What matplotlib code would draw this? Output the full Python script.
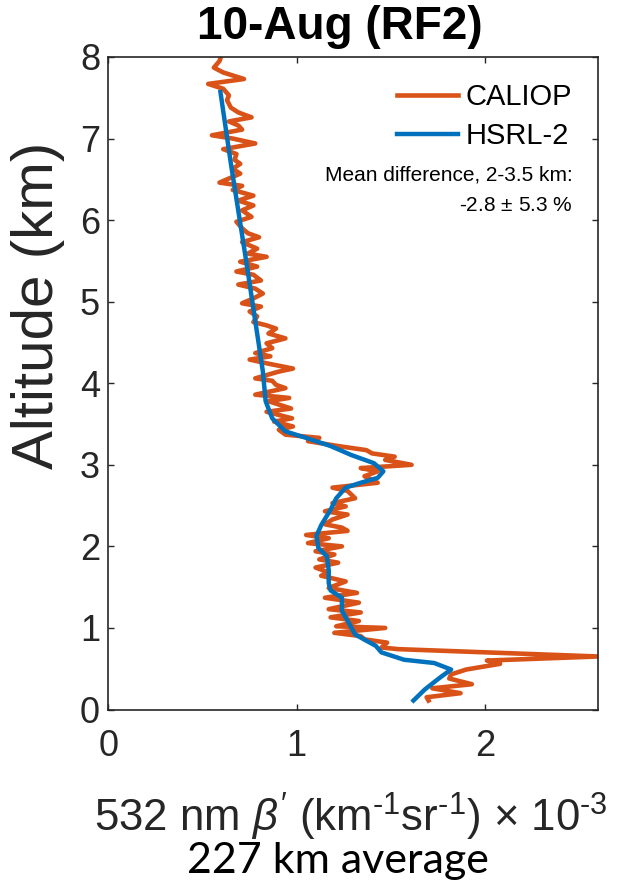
import matplotlib
matplotlib.use("Agg")
import matplotlib.pyplot as plt

plt.rcParams['font.family'] = ['Liberation Sans', 'DejaVu Sans']
plt.rcParams['mathtext.fontset'] = 'custom'
plt.rcParams['mathtext.rm'] = 'Liberation Sans'
plt.rcParams['mathtext.it'] = 'Liberation Sans:italic'

# CALIOP profile (altitude km, beta' x 1e-3)
caliop_alt = [8.02, 7.95, 7.87, 7.81, 7.73, 7.67, 7.61, 7.53, 7.47, 7.38, 7.32, 7.26, 7.21, 7.16,
              7.11, 7.04, 7.00, 6.94, 6.87, 6.81, 6.74, 6.69, 6.63, 6.57, 6.46, 6.42, 6.37, 6.30,
              6.24, 6.18, 6.12, 6.04, 5.98, 5.90, 5.84, 5.79, 5.73, 5.65, 5.59, 5.55, 5.49, 5.43,
              5.37, 5.33, 5.26, 5.21, 5.16, 5.10, 5.04, 4.98, 4.94, 4.88, 4.82, 4.75, 4.71, 4.67,
              4.61, 4.55, 4.49, 4.43, 4.37, 4.33, 4.29, 4.24, 4.18, 4.14, 4.06, 4.03, 3.98, 3.94,
              3.86, 3.82, 3.78, 3.69, 3.65, 3.57, 3.53, 3.47, 3.43, 3.37, 3.33, 3.29, 3.23, 3.18,
              3.14, 3.10, 3.06, 3.00, 2.96, 2.92, 2.86, 2.78, 2.72, 2.68, 2.59, 2.53, 2.49, 2.43,
              2.39, 2.33, 2.27, 2.23, 2.19, 2.14, 2.10, 2.04, 2.00, 1.94, 1.90, 1.84, 1.80, 1.74,
              1.68, 1.64, 1.57, 1.49, 1.43, 1.37, 1.31, 1.23, 1.19, 1.13, 1.085, 1.02, 1.00, 0.94,
              0.90, 0.86, 0.82, 0.76, 0.74, 0.65, 0.60, 0.56, 0.49, 0.43, 0.38, 0.31, 0.26, 0.20,
              0.15, 0.11]
caliop_val = [0.60, 0.59, 0.56, 0.61, 0.72, 0.53, 0.61, 0.64, 0.63, 0.65, 0.69, 0.76, 0.64, 0.69,
              0.71, 0.55, 0.66, 0.78, 0.61, 0.68, 0.67, 0.70, 0.66, 0.70, 0.59, 0.71, 0.66, 0.77,
              0.69, 0.77, 0.71, 0.76, 0.68, 0.71, 0.74, 0.80, 0.71, 0.79, 0.74, 0.84, 0.70, 0.79,
              0.68, 0.77, 0.81, 0.69, 0.78, 0.82, 0.77, 0.71, 0.81, 0.75, 0.79, 0.77, 0.84, 0.89,
              0.85, 0.94, 0.84, 0.87, 0.78, 0.86, 0.75, 0.85, 0.98, 0.90, 0.78, 0.87, 0.89, 0.94,
              0.78, 0.96, 0.85, 0.97, 0.84, 0.975, 0.88, 0.98, 0.905, 0.94, 1.12, 1.06, 1.22, 1.37,
              1.40, 1.52, 1.47, 1.61, 1.34, 1.43, 1.36, 1.43, 1.19, 1.27, 1.31, 1.19, 1.26, 1.15,
              1.27, 1.19, 1.15, 1.24, 1.27, 1.05, 1.17, 1.06, 1.24, 1.10, 1.20, 1.12, 1.22, 1.10,
              1.17, 1.13, 1.26, 1.17, 1.32, 1.15, 1.33, 1.17, 1.34, 1.18, 1.33, 1.21, 1.47, 1.20,
              1.34, 1.36, 1.48, 1.45, 1.54, 2.60, 2.01, 2.08, 1.90, 1.82, 1.81, 1.93, 1.72, 1.87,
              1.69, 1.70]

# HSRL-2 profile
hsrl_alt = [7.57, 6.70, 5.45, 4.15, 3.78, 3.57, 3.41, 3.33, 3.23, 3.12, 3.02, 2.92, 2.84, 2.78,
            2.72, 2.59, 2.45, 2.26, 2.13, 1.98, 1.88, 1.71, 1.55, 1.46, 1.37, 1.21, 1.09, 0.92,
            0.78, 0.70, 0.61, 0.57, 0.49, 0.39, 0.245, 0.11]
hsrl_val = [0.595, 0.65, 0.735, 0.82, 0.835, 0.87, 0.94, 1.05, 1.18, 1.29, 1.41, 1.46, 1.43, 1.34,
            1.26, 1.21, 1.18, 1.13, 1.105, 1.115, 1.16, 1.17, 1.17, 1.18, 1.24, 1.24, 1.27, 1.31,
            1.42, 1.45, 1.57, 1.73, 1.82, 1.76, 1.68, 1.62]

x_ticks = [0, 1, 2]
y_ticks = [0, 1, 2, 3, 4, 5, 6, 7, 8]

W, H = 633, 885
fig = plt.figure(figsize=(W / 100, H / 100), dpi=100)
ax = fig.add_axes([108.4 / W, 1 - 709.5 / H, (598 - 108.4) / W, (709.5 - 57) / H])

ax.plot(caliop_val, caliop_alt, color='#D95319', lw=3.3, label='CALIOP', solid_joinstyle='round')
ax.plot(hsrl_val, hsrl_alt, color='#0072BD', lw=3.2, label='HSRL-2', solid_joinstyle='round')

ax.set_xlim(0, 2.6)
ax.set_ylim(0, 8)
ax.set_xticks(x_ticks)
ax.set_yticks(y_ticks)
ax.tick_params(direction='in', length=4.5, width=1.0, top=True, right=True,
               labelsize=26, colors='#262626', labelcolor='#262626')
ax.tick_params(axis='x', pad=14)
ax.tick_params(axis='y', pad=6)
for s in ax.spines.values():
    s.set_color('#262626')
    s.set_linewidth(1.2)

leg = ax.legend(loc='upper right', bbox_to_anchor=(0.947, 0.960), frameon=False, fontsize=21,
                handlelength=2.1, handletextpad=0.25, labelspacing=0.37, borderpad=0,
                borderaxespad=0)

ax.text(0.949, 0.819, 'Mean difference, 2-3.5 km:', transform=ax.transAxes, ha='right',
        va='center', fontsize=15)
ax.text(0.949, 0.773, r'-2.8 $\pm$ 5.3 %', transform=ax.transAxes, ha='right',
        va='center', fontsize=15)

fig.text(340 / W, 1 - 27 / H, '10-Aug (RF2)', ha='center', va='center', fontsize=33,
         fontweight='bold')
fig.text(38 / W, 1 - 305 / H, 'Altitude (km)', ha='center', va='center', fontsize=42,
         rotation=90, color='#262626')
fig.text(351 / W, 1 - 832 / H,
         r"532 nm $\it{\beta}^{\prime}$ (km$^{\text{-}1}$sr$^{\text{-}1}$) $\times$ 10$^{\text{-}3}$",
         ha='center', va='baseline', fontsize=31.5, color='#262626')
fig.text(337.5 / W, 1 - 873 / H, '227 km average', ha='center', va='baseline', fontsize=31,
         family=['Lato', 'DejaVu Sans'])

fig.savefig('out.png', dpi=100)
